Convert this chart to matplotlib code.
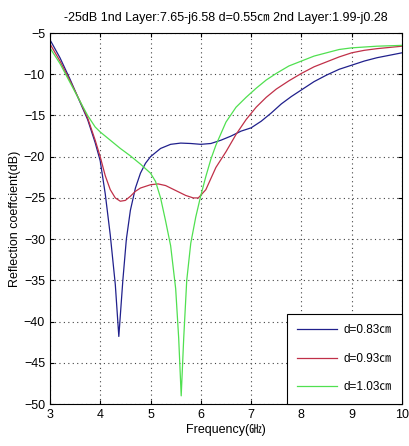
import matplotlib
matplotlib.use("Agg")
import matplotlib.pyplot as plt

plt.rcParams['font.family'] = ['Liberation Sans Narrow', 'Liberation Sans', 'Noto Sans CJK JP', 'DejaVu Sans']

# d=0.83cm
f_blue = [3.0, 3.2, 3.4, 3.6, 3.75, 3.9, 4.0, 4.1, 4.2, 4.3, 4.37, 4.45, 4.52, 4.6, 4.7,
          4.8, 4.9, 5.0, 5.2, 5.4, 5.6, 5.8, 6.0, 6.2, 6.4, 6.6, 6.8, 7.0, 7.2, 7.4,
          7.6, 7.8, 8.0, 8.25, 8.5, 8.75, 9.0, 9.25, 9.5, 9.75, 10.0]
r_blue = [-5.8, -8.0, -10.6, -13.4, -15.5, -18.3, -20.5, -24.5, -29.5, -35.5, -41.8, -35.0, -30.0, -26.5, -23.8,
          -22.0, -20.8, -20.0, -19.0, -18.5, -18.35, -18.4, -18.5, -18.4, -18.0, -17.5, -16.9, -16.5, -15.7, -14.7,
          -13.6, -12.7, -11.9, -10.9, -10.1, -9.4, -8.9, -8.4, -8.0, -7.7, -7.4]

# d=0.93cm
f_red = [3.0, 3.2, 3.4, 3.6, 3.75, 3.9, 4.0, 4.1, 4.2, 4.3, 4.4, 4.5, 4.6, 4.7, 4.8,
         5.0, 5.15, 5.3, 5.5, 5.7, 5.85, 5.95, 6.1, 6.3, 6.5, 6.7, 6.9, 7.1, 7.3, 7.5,
         7.75, 8.0, 8.25, 8.5, 8.75, 9.0, 9.25, 9.5, 9.75, 10.0]
r_red = [-6.3, -8.4, -10.8, -13.3, -15.3, -18.0, -20.0, -22.3, -24.0, -25.0, -25.4, -25.3, -24.8, -24.2, -23.8,
         -23.4, -23.3, -23.5, -24.1, -24.7, -25.0, -25.0, -24.0, -21.3, -19.4, -17.3, -15.5, -14.0, -12.8, -11.8,
         -10.8, -9.9, -9.1, -8.5, -7.9, -7.4, -7.1, -6.9, -6.75, -6.6]

# d=1.03cm
f_green = [3.0, 3.2, 3.4, 3.6, 3.75, 3.9, 4.0, 4.2, 4.4, 4.6, 4.8, 5.0, 5.1, 5.2, 5.3,
           5.4, 5.5, 5.56, 5.61, 5.66, 5.72, 5.8, 5.9, 6.0, 6.1, 6.2, 6.3, 6.5, 6.7, 6.9,
           7.1, 7.3, 7.5, 7.75, 8.0, 8.25, 8.5, 8.75, 9.0, 9.25, 9.5, 9.75, 10.0]
r_green = [-6.8, -8.7, -11.0, -13.3, -15.0, -16.4, -17.0, -18.0, -19.0, -19.9, -20.9, -22.0, -23.0, -25.0, -27.8,
           -30.8, -36.0, -42.0, -49.0, -42.0, -35.0, -30.5, -27.3, -24.7, -22.4, -20.3, -18.6, -15.8, -14.0, -12.8,
           -11.7, -10.7, -9.9, -9.0, -8.4, -7.8, -7.4, -7.0, -6.8, -6.7, -6.6, -6.55, -6.5]

labels = ['d=0.83\u339d', 'd=0.93\u339d', 'd=1.03\u339d']
colors = ['#20208c', '#c03048', '#50e050']

fig = plt.figure(figsize=(4.09, 4.46), dpi=100)
ax = fig.add_axes([0.122, 0.094, 0.861, 0.832])

ax.plot(f_blue, r_blue, color=colors[0], lw=0.9, label=labels[0])
ax.plot(f_red, r_red, color=colors[1], lw=0.9, label=labels[1])
ax.plot(f_green, r_green, color=colors[2], lw=0.9, label=labels[2])

ax.set_xlim(3, 10)
ax.set_ylim(-50, -5)
ax.set_xticks(range(3, 11))
ax.set_yticks(range(-50, -4, 5))
ax.grid(True, color='#444444', linestyle=(0, (1, 3)), linewidth=0.8)
ax.tick_params(direction='in', top=True, right=True, labelsize=9, length=3)
for s in ax.spines.values():
    s.set_linewidth(0.8)

ax.set_title('-25dB 1nd Layer:7.65-j6.58 d=0.55\u339d 2nd Layer:1.99-j0.28', fontsize=9, pad=9)
ax.set_xlabel('Frequency(\u3393)', fontsize=9, labelpad=2)
ax.set_ylabel('Reflection coeffcient(dB)', fontsize=9, labelpad=2)

leg = ax.legend(loc='lower right', fontsize=8.5, fancybox=False, framealpha=1,
                edgecolor='black', borderaxespad=0, handlelength=3.4, handletextpad=0.5,
                labelspacing=1.4, borderpad=0.9)
leg.get_frame().set_linewidth(0.8)

fig.savefig('out.png', dpi=100)
